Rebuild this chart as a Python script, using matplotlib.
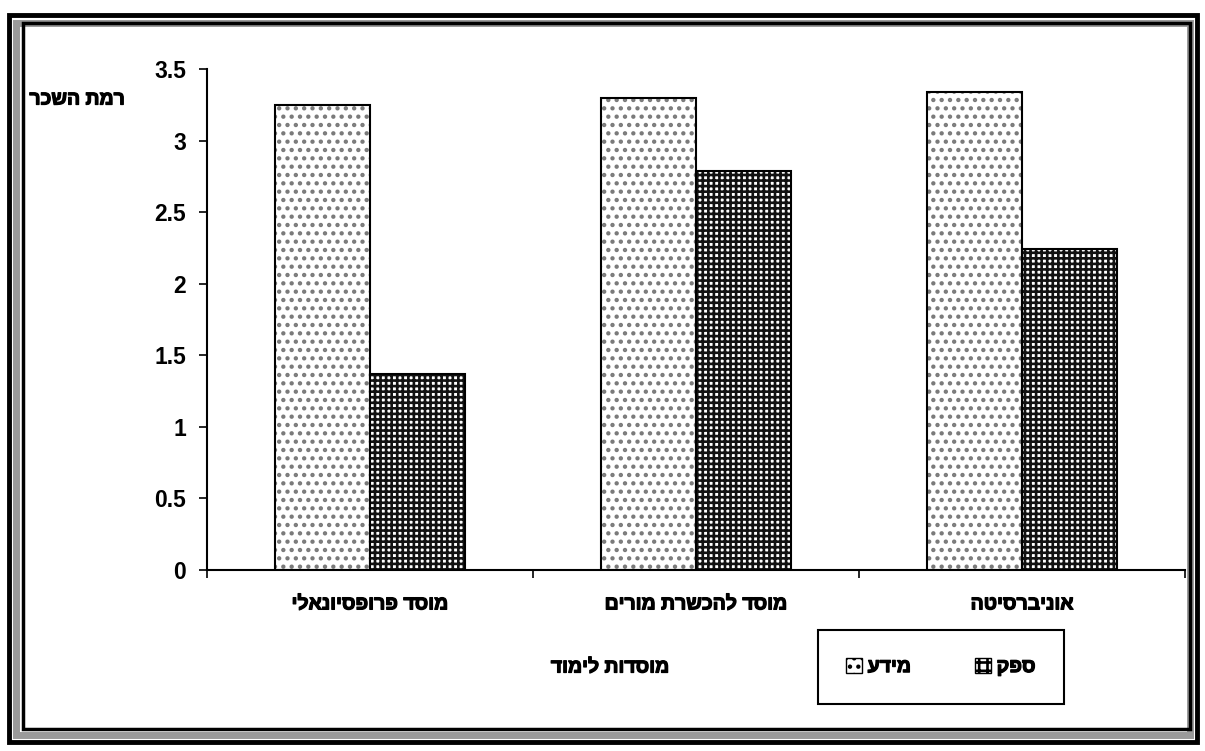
import matplotlib
matplotlib.use("Agg")
import matplotlib.pyplot as plt
import matplotlib.patheffects as pe
import numpy as np
from matplotlib.patches import Rectangle, Patch

plt.rcParams['font.family'] = ['Liberation Sans', 'DejaVu Sans']
plt.rcParams['hatch.linewidth'] = 1.9

# נתונים
categories = ['מוסד פרופסיונאלי', 'מוסד להכשרת מורים', 'אוניברסיטה']
series_names = ['מידע', 'ספק']
info_values = [3.25, 3.30, 3.34]
doubt_values = [1.37, 2.79, 2.24]
y_ticks = [0, 0.5, 1, 1.5, 2, 2.5, 3, 3.5]
y_tick_labels = ['0', '0.5', '1', '1.5', '2', '2.5', '3', '3.5']
y_title = 'רמת השכר'
x_title = 'מוסדות לימוד'

# הדגשה נוספת לטקסט העברי
BOLD_FX = [pe.withStroke(linewidth=0.9, foreground='black')]


def rtl(s):
    # matplotlib אינו תומך ב-bidi, הופכים את הסדר
    return s[::-1]


fig = plt.figure(figsize=(12.05, 7.51), dpi=100)

# מסגרת כפולה סביב התרשים
fig.patches.append(Rectangle((9 / 1205, 9 / 751), 1188 / 1205, 727 / 751,
                             transform=fig.transFigure, fill=False,
                             edgecolor='black', linewidth=3.5))
fig.patches.append(Rectangle((16 / 1205, 16 / 751), 1174 / 1205, 712 / 751,
                             transform=fig.transFigure, fill=False,
                             edgecolor='#9a9a9a', linewidth=5))
fig.patches.append(Rectangle((23 / 1205, 22 / 751), 1167 / 1205, 706 / 751,
                             transform=fig.transFigure, fill=False,
                             edgecolor='black', linewidth=2.5))

ax = fig.add_axes([207 / 1205, 1 - 570 / 751, 978 / 1205, 501 / 751])

x = np.arange(len(categories))
width = 0.29

# עמודות "מידע" - נקודות אפורות
ax.bar(x - width / 2, info_values, width, color='white', edgecolor='#7a7a7a',
       hatch='..', linewidth=0)
ax.bar(x - width / 2, info_values, width, fill=False, edgecolor='black',
       linewidth=1.5)
# עמודות "ספק" - רשת שחורה
ax.bar(x + width / 2, doubt_values, width, color='white', edgecolor='#111111',
       hatch='+++', linewidth=0)
ax.bar(x + width / 2, doubt_values, width, fill=False, edgecolor='black',
       linewidth=1.5)

ax.set_xlim(-0.5, len(categories) - 0.5)
ax.set_ylim(0, 3.5)
ax.spines['top'].set_visible(False)
ax.spines['right'].set_visible(False)
ax.spines['left'].set_linewidth(1.5)
ax.spines['bottom'].set_linewidth(1.5)

ax.set_yticks(y_ticks)
ax.set_yticklabels(y_tick_labels, fontsize=16.5, fontweight='bold',
                   family=['Liberation Sans Narrow', 'Liberation Sans'])
ax.tick_params(axis='y', direction='out', length=6, width=1.2, pad=9)

ax.set_xticks(x)
ax.set_xticklabels([rtl(c) for c in categories], fontsize=14,
                   fontweight='bold')
for lbl in ax.get_xticklabels():
    lbl.set_path_effects(BOLD_FX)
ax.tick_params(axis='x', length=0, pad=19)
ax.set_xticks(np.arange(len(categories) + 1) - 0.5, minor=True)
ax.tick_params(axis='x', which='minor', direction='out', length=6, width=1.2)

fig.text(125 / 1205, 1 - 100 / 751, rtl(y_title), ha='right', va='center',
         fontsize=14, fontweight='bold', path_effects=BOLD_FX)
fig.text(610 / 1205, 1 - 668 / 751, rtl(x_title), ha='center', va='center',
         fontsize=14, fontweight='bold', path_effects=BOLD_FX)

handles = [Patch(facecolor='white', edgecolor='black', hatch='..', linewidth=1),
           Patch(facecolor='white', edgecolor='black', hatch='++', linewidth=1)]
leg = fig.legend(handles, [rtl(s) for s in series_names], ncol=2,
                 loc='center', bbox_to_anchor=(941 / 1205, 1 - 667 / 751),
                 prop={'weight': 'bold', 'size': 14},
                 handlelength=0.8, handleheight=0.8, handletextpad=0.3,
                 columnspacing=3.3, borderpad=1.45, fancybox=False,
                 edgecolor='black', framealpha=1)
leg.get_frame().set_linewidth(1.5)
for t in leg.get_texts():
    t.set_path_effects(BOLD_FX)

fig.savefig('out.png', dpi=100)
